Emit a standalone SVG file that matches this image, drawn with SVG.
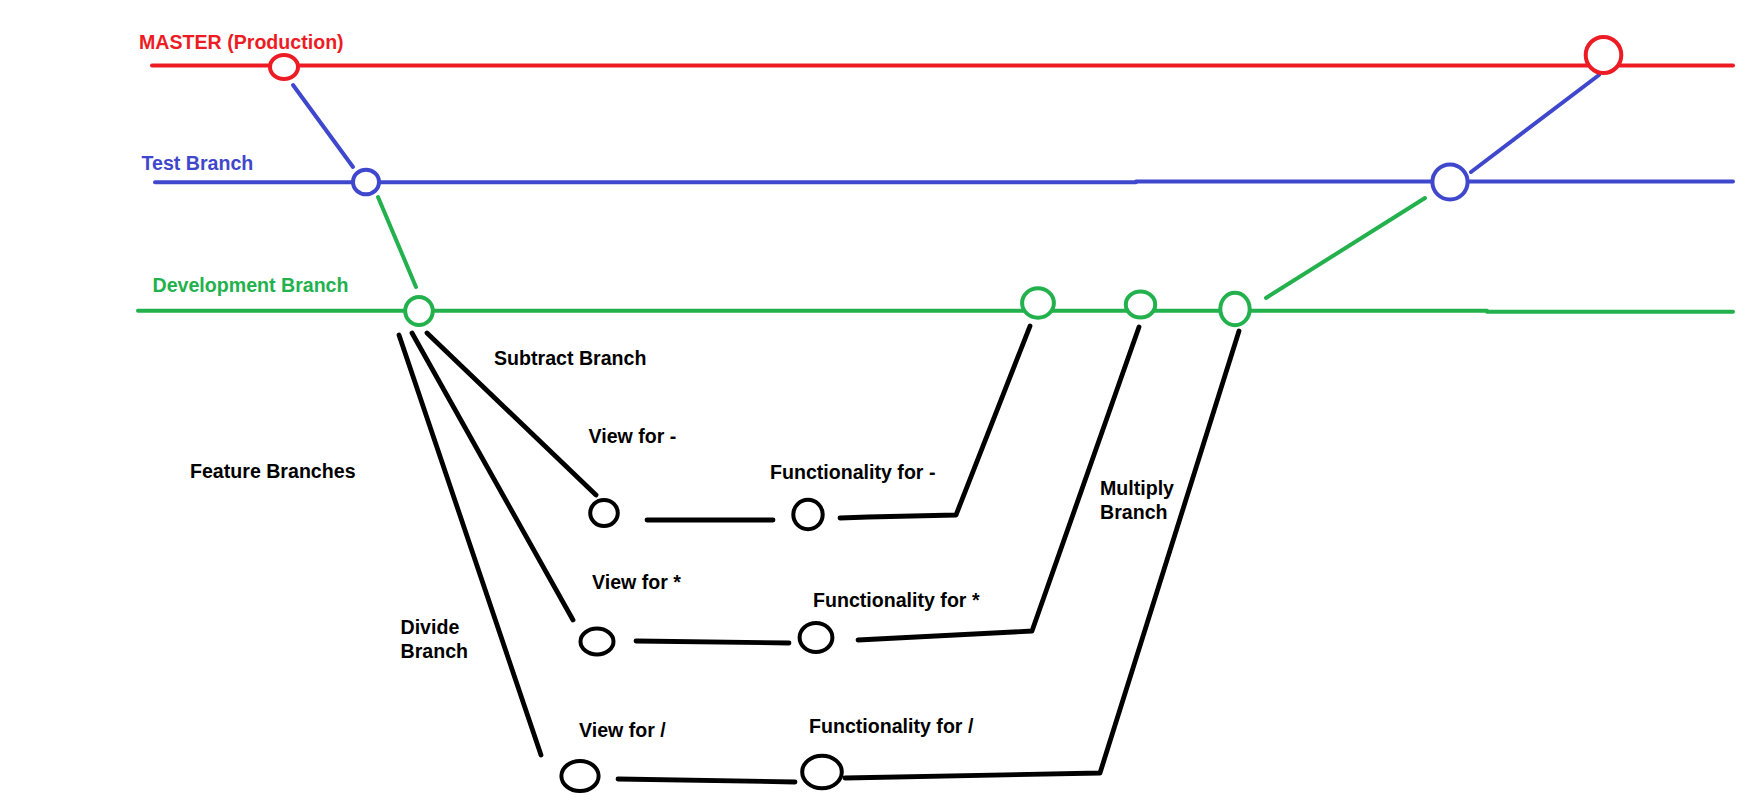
<svg xmlns="http://www.w3.org/2000/svg" width="1748" height="812" viewBox="0 0 1748 812">
<style>
.t{font-family:"Liberation Sans",Arial,sans-serif;font-weight:bold;font-size:19.6px;fill:#000}
.tc{font-size:19.6px}
.red{stroke:#ED1C24}
.blue{stroke:#3F48CC}
.green{stroke:#22B14C}
.blk{stroke:#000}
.ln{fill:none;stroke-width:4;stroke-linecap:round;stroke-linejoin:round}
.lk{fill:none;stroke-width:4.8;stroke-linecap:round;stroke-linejoin:round}
.n{fill:#fff;stroke-width:4}
</style>
<rect width="1748" height="812" fill="#fff"/>
<g id="branches">
  <path class="ln red" d="M152 65.5 H1733"/>
  <path class="ln blue" d="M155 182.3 H1136 M1136 181.5 H1733"/>
  <path class="ln green" d="M138 310.7 H1487 M1487 311.7 H1733"/>
  <text class="t tc" x="139" y="49" style="fill:#ED1C24">MASTER (Production)</text>
  <text class="t tc" x="141.5" y="170" style="fill:#3F48CC">Test Branch</text>
  <text class="t tc" x="152.5" y="291.5" style="fill:#22B14C">Development Branch</text>
  <text class="t" x="190" y="478">Feature Branches</text>
  <text class="t" x="494" y="365">Subtract Branch</text>
  <text class="t" x="1100" y="495">Multiply</text>
  <text class="t" x="1100" y="519">Branch</text>
  <text class="t" x="400.5" y="634">Divide</text>
  <text class="t" x="400.5" y="658">Branch</text>
</g>
<g id="connectors">
  <path class="ln blue" d="M293 85 L353 167"/>
  <path class="ln green" d="M378 197 L416 287"/>
  <path class="ln blue" d="M1471 172 L1599 75"/>
  <path class="ln green" d="M1266 298 L1425 198"/>
  <path class="lk blk" d="M427 333 L596 495"/>
  <path class="lk blk" d="M412 333 L573 620"/>
  <path class="lk blk" d="M399 335 L541 755"/>
  <path class="lk blk" d="M647 520 L773 520"/>
  <path class="lk blk" d="M840 518 L868 517 L956 515 L1030 326"/>
  <path class="lk blk" d="M636 641 L789 643"/>
  <path class="lk blk" d="M858 640 L1032 631 L1139 327"/>
  <path class="lk blk" d="M618 779 L795 782"/>
  <path class="lk blk" d="M845 778 L1100 773 L1239 331"/>
</g>
<g id="master1"><ellipse class="n red" cx="284" cy="67" rx="14" ry="12"/></g>
<g id="master2"><ellipse class="n red" cx="1603.5" cy="55" rx="17.8" ry="18"/></g>
<g id="test1"><ellipse class="n blue" cx="366" cy="182" rx="13" ry="12.3"/></g>
<g id="test2"><ellipse class="n blue" cx="1450" cy="182" rx="17.6" ry="17.5"/></g>
<g id="dev1"><ellipse class="n green" cx="419" cy="311" rx="13.8" ry="14"/></g>
<g id="dev2"><ellipse class="n green" cx="1038" cy="303" rx="15.9" ry="14.7"/></g>
<g id="dev3"><ellipse class="n green" cx="1140.5" cy="304.5" rx="14.7" ry="13"/></g>
<g id="dev4"><ellipse class="n green" cx="1235" cy="309" rx="14.7" ry="16.3"/></g>
<g id="view-minus"><ellipse class="n blk" cx="604" cy="513" rx="13.8" ry="13"/><text class="t" x="588.5" y="443">View for -</text></g>
<g id="func-minus"><ellipse class="n blk" cx="808" cy="514.5" rx="14.7" ry="14.8"/><text class="t" x="770" y="479">Functionality for -</text></g>
<g id="view-mul"><ellipse class="n blk" cx="597" cy="641.5" rx="16.5" ry="13"/><text class="t" x="592" y="589">View for *</text></g>
<g id="func-mul"><ellipse class="n blk" cx="816" cy="637.5" rx="16.4" ry="14.5"/><text class="t" x="813" y="607">Functionality for *</text></g>
<g id="view-div"><ellipse class="n blk" cx="580" cy="776" rx="18.6" ry="15"/><text class="t" x="579" y="737">View for /</text></g>
<g id="func-div"><ellipse class="n blk" cx="822" cy="772" rx="19.8" ry="16.3"/><text class="t" x="809" y="733">Functionality for /</text></g>
</svg>
